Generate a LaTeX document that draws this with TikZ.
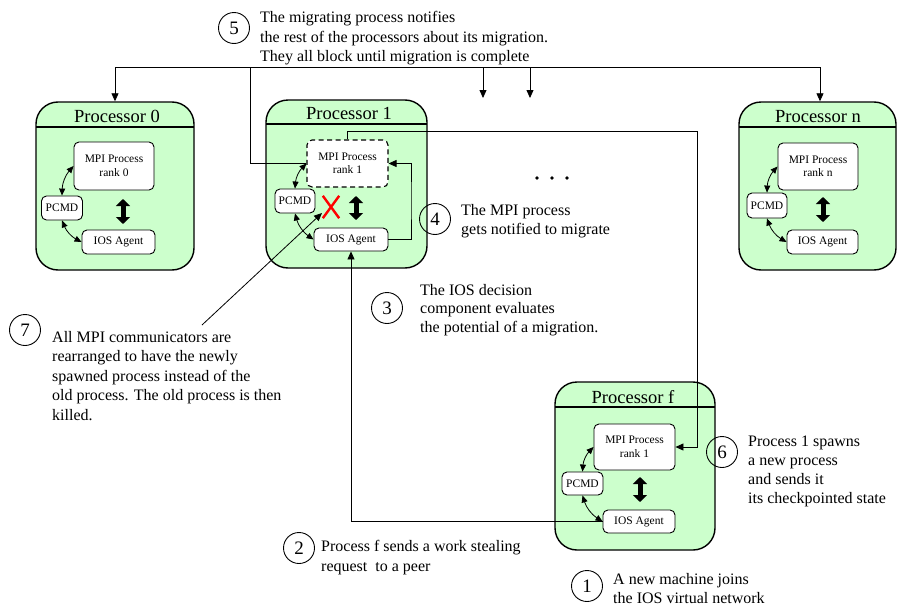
\documentclass[tikz,border=0pt]{standalone}
\usepackage{fontspec}
\setmainfont{Liberation Serif}
\usetikzlibrary{arrows.meta}
\definecolor{procgreen}{HTML}{CCFFCC}
\tikzset{
  proc/.style={draw, line width=1.4pt, fill=procgreen, rounded corners=22pt, inner sep=0pt},
  ptitle/.style={inner sep=0pt, font=\fontsize{18.5}{20}\selectfont},
  divider/.style={line width=1.2pt},
  inbox/.style={draw, line width=0.9pt, fill=white, rounded corners=5pt, inner sep=1pt,
    align=center, font=\fontsize{11.5}{13.5}\selectfont},
  num/.style={draw, circle, line width=0.9pt, minimum size=31pt, inner sep=0pt,
    font=\fontsize{19}{20}\selectfont},
  note/.style={anchor=west, align=left, inner sep=0pt, font=\fontsize{16}{19.5}\selectfont},
  conn/.style={line width=0.8pt},
  tip/.style={-{Triangle[length=8pt,width=7pt]}},
  twotip/.style={{Triangle[length=7pt,width=6pt]}-{Triangle[length=7pt,width=6pt]}},
  fat/.style={line width=5pt, {Triangle[length=7pt,width=14pt]}-{Triangle[length=7pt,width=14pt]}},
}
\begin{document}
\begin{tikzpicture}[x=1pt,y=-1pt]
\useasboundingbox (0,0) rectangle (898,608);

% ---------- Processor 0 ----------
\node[proc, minimum width=158pt, minimum height=168pt] (p0) at (115,186) {};
\node[ptitle] (p0t) at (117,116) {Processor 0};
\draw[divider] (36,127) -- (194,127);
\node[inbox, minimum width=80pt, minimum height=48pt] (m0) at (114,166) {MPI Process\\rank 0};
\node[inbox, minimum width=41pt, minimum height=24pt] (c0) at (62,208) {PCMD};
\node[inbox, minimum width=73pt, minimum height=24pt] (a0) at (118.5,242) {IOS Agent};
\coordinate (d0a) at (123,199);
\coordinate (d0b) at (123,224);
\draw[fat] (d0a) -- (d0b);
\draw[conn,twotip] (c0.north) to[bend left=20] (m0.west);
\draw[conn,twotip] (c0.south) to[bend right=20] (a0.west);

% ---------- Processor 1 ----------
\node[proc, minimum width=161pt, minimum height=168pt] (p1) at (346.5,184) {};
\node[ptitle] (p1t) at (349,113) {Processor 1};
\draw[divider] (266,124) -- (427,124);
\node[inbox, dashed, dash pattern=on 5pt off 3.5pt, line width=1.1pt,
      minimum width=81pt, minimum height=47pt] (m1) at (347.5,163.5) {MPI Process\\rank 1};
\node[inbox, minimum width=40pt, minimum height=24pt] (c1) at (295,201) {PCMD};
\node[inbox, minimum width=74pt, minimum height=23pt] (a1) at (351,239.5) {IOS Agent};
\coordinate (d1a) at (356,196);
\coordinate (d1b) at (356,220);
\draw[fat] (d1a) -- (d1b);
\draw[conn,twotip] (c1.north) to[bend left=20] (m1.west);
\draw[conn,twotip] (c1.south) to[bend right=20] (a1.west);
% the old process is cancelled
\node[minimum width=16pt, minimum height=22pt, inner sep=0pt] (x1) at (331,207) {};
\draw[red, line width=2.4pt] (x1.north west) -- (x1.south east)
                              (x1.north east) -- (x1.south west);

% ---------- Processor n ----------
\node[proc, minimum width=157pt, minimum height=168pt] (pn) at (817.5,186) {};
\node[ptitle] (pnt) at (818,117) {Processor n};
\draw[divider] (739,127) -- (896,127);
\node[inbox, minimum width=80pt, minimum height=47pt] (mn) at (818,166.5) {MPI Process\\rank n};
\node[inbox, minimum width=40pt, minimum height=25pt] (cn) at (767,205.5) {PCMD};
\node[inbox, minimum width=71pt, minimum height=24pt] (an) at (822.5,242) {IOS Agent};
\coordinate (dna) at (823,197);
\coordinate (dnb) at (823,222);
\draw[fat] (dna) -- (dnb);
\draw[conn,twotip] (cn.north) to[bend left=20] (mn.west);
\draw[conn,twotip] (cn.south) to[bend right=20] (an.west);

% ---------- Processor f ----------
\node[proc, minimum width=160pt, minimum height=168pt] (pf) at (635,466) {};
\node[ptitle] (pft) at (633,397) {Processor f};
\draw[divider] (555,407) -- (715,407);
\node[inbox, minimum width=81pt, minimum height=46pt] (mf) at (634.5,447) {MPI Process\\rank 1};
\node[inbox, minimum width=41pt, minimum height=23pt] (cf) at (582.5,483.5) {PCMD};
\node[inbox, minimum width=72pt, minimum height=23pt] (af) at (639,521.5) {IOS Agent};
\coordinate (dfa) at (640,477);
\coordinate (dfb) at (640,502);
\draw[fat] (dfa) -- (dfb);
\draw[conn,twotip] (cf.north) to[bend left=20] (mf.west);
\draw[conn,twotip] (cf.south) to[bend right=20] (af.west);

% further processors
\fill (537,178) circle (1.8pt) (552,178) circle (1.8pt) (567,178) circle (1.8pt);

% ---------- connectors ----------
% (5) migration notice to all processors
\coordinate (busJ) at (250,67);
\coordinate (busL) at (115,67);
\coordinate (busR) at (820,67);
\coordinate (busA) at (483,67);
\coordinate (busAe) at (483,98);
\coordinate (busB) at (530,67);
\coordinate (busBe) at (530,98);
\draw[conn] (m1.west) -| (busJ);
\draw[conn] (busL) -- (busR);
\draw[conn,tip] (busL) -- (p0.north);
\draw[conn,tip] (busA) -- (busAe);
\draw[conn,tip] (busB) -- (busBe);
\draw[conn,tip] (busR) -- (busR |- pn.north);

% (6) spawn on processor f
\coordinate (c6) at (697,131);
\draw[conn,tip] (m1.north) |- (c6) |- (mf.east);

% (4) notification to migrate
\coordinate (c4) at (411,200);
\draw[conn,tip] (a1.east) -| (c4) |- (m1.east);

% (2) work stealing request
\draw[conn,tip] (af.west) -| (a1.south);

% (7) communicators rearranged
\coordinate (c7) at (202,325);
\coordinate (x7) at (322,213);
\draw[conn,tip] (c7) -- (x7);

% ---------- step labels ----------
\node[num] (n5) at (234,28) {5};
\node[note] (t5) at (260,38.5) {The migrating process notifies\\the rest of the processors about its migration.\\They all block until migration is complete};

\node[num] (n4) at (435,219) {4};
\node[note] (t4) at (461,221) {The MPI process\\gets notified to migrate};

\node[num] (n3) at (387,308) {3};
\node[note, font=\fontsize{16}{18.5}\selectfont] (t3) at (420,310) {The IOS decision\\component evaluates\\the potential of a migration.};

\node[num] (n7) at (25,330) {7};
\node[note] (t7) at (52,376) {All MPI communicators are\\rearranged to have the newly\\spawned process instead of the\\old process. The old process is then\\killed.};

\node[num] (n6) at (722,452) {6};
\node[note, font=\fontsize{16}{19}\selectfont] (t6) at (748,471.5) {Process 1 spawns\\a new process\\and sends it\\its checkpointed state};

\node[num] (n2) at (299,548) {2};
\node[note] (t2) at (321,557.5) {Process f sends a work stealing\\request\ \ to a peer};

\node[num] (n1) at (587,586) {1};
\node[note] (t1) at (613,588.5) {A new machine joins\\the IOS virtual network};

\end{tikzpicture}
\end{document}
